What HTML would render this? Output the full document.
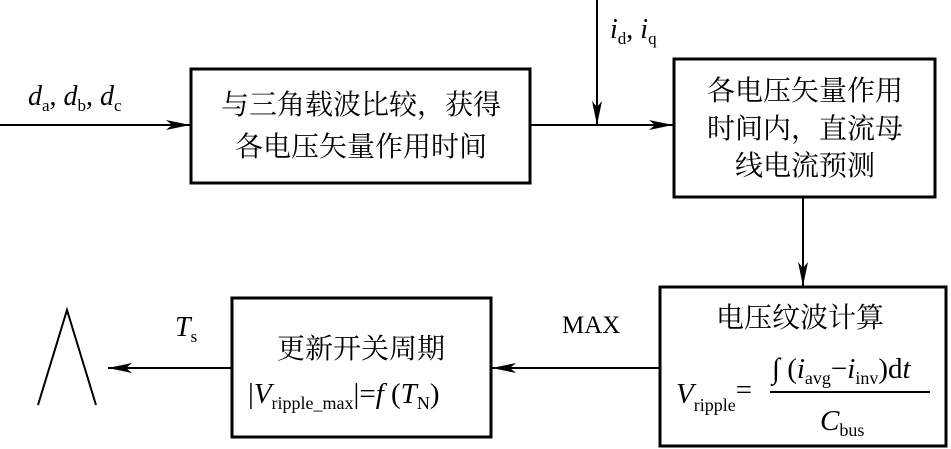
<!DOCTYPE html>
<html><head><meta charset="utf-8"><style>
body{margin:0;background:#fff;}
svg{display:block;}
text{font-family:"Liberation Serif","Noto Serif CJK SC",serif;fill:#000;}
.cn{font-family:"Liberation Serif","Noto Serif CJK SC",serif;font-size:28px;}
</style></head><body>
<svg width="951" height="449" viewBox="0 0 951 449" xmlns="http://www.w3.org/2000/svg">
<defs><marker id="a" markerWidth="24" markerHeight="10" refX="24" refY="5" orient="auto" markerUnits="userSpaceOnUse"><path d="M0,0 L24,5 L0,10 L6,5 Z" fill="#000"/></marker></defs>
<g stroke="#000" stroke-width="3" fill="none">
<rect x="191" y="69" width="339" height="114"/>
<rect x="674" y="59" width="261" height="138"/>
<rect x="660" y="287" width="286" height="159"/>
<rect x="232" y="298" width="259" height="139"/>
</g>
<g stroke="#000" stroke-width="2" fill="none">
<line x1="0" y1="125" x2="190" y2="125" marker-end="url(#a)"/>
<line x1="530" y1="125" x2="673" y2="125" marker-end="url(#a)"/>
<line x1="597" y1="0" x2="597" y2="125" marker-end="url(#a)"/>
<line x1="803" y1="197" x2="803" y2="286" marker-end="url(#a)"/>
<line x1="660" y1="368" x2="492" y2="368" marker-end="url(#a)"/>
<line x1="232" y1="368" x2="108" y2="368" marker-end="url(#a)"/>
<polyline points="38,405 67,310 96,405"/>
<line x1="770" y1="392" x2="930" y2="392" stroke-width="2"/>
</g>
<text x="28" y="105" font-size="28" font-style="italic">d<tspan font-size="17" font-style="normal" dy="6">a</tspan><tspan dy="-6" font-style="normal">, </tspan>d<tspan font-size="17" font-style="normal" dy="6">b</tspan><tspan dy="-6" font-style="normal">, </tspan>d<tspan font-size="17" font-style="normal" dy="6">c</tspan></text>
<text x="610" y="38" font-size="28" font-style="italic">i<tspan font-size="17" font-style="normal" dy="6">d</tspan><tspan dy="-6" font-style="normal">, </tspan>i<tspan font-size="17" font-style="normal" dy="6">q</tspan></text>
<text class="cn" x="361" y="114" text-anchor="middle">与三角载波比较，获得</text>
<text class="cn" x="361" y="156" text-anchor="middle">各电压矢量作用时间</text>
<text class="cn" x="805" y="100" text-anchor="middle">各电压矢量作用</text>
<text class="cn" x="805" y="138" text-anchor="middle">时间内，直流母</text>
<text class="cn" x="805" y="175" text-anchor="middle">线电流预测</text>
<text class="cn" x="800" y="327" text-anchor="middle">电压纹波计算</text>
<text x="772" y="378" font-size="29">∫ (<tspan font-style="italic">i</tspan><tspan font-size="18" dy="6">avg</tspan><tspan dy="-6">−</tspan><tspan font-style="italic">i</tspan><tspan font-size="18" dy="6">inv</tspan><tspan dy="-6">)d</tspan><tspan font-style="italic">t</tspan></text>
<text x="676" y="403" font-size="29" font-style="italic">V<tspan font-size="18" font-style="normal" dy="8">ripple</tspan><tspan font-style="normal" dy="-12">=</tspan></text>
<text x="820" y="430" font-size="29" font-style="italic">C<tspan font-size="18" font-style="normal" dy="6">bus</tspan></text>
<text x="562" y="333" font-size="25">MAX</text>
<text x="175" y="336" font-size="28" font-style="italic">T<tspan font-size="17" font-style="normal" dy="6">s</tspan></text>
<text class="cn" x="361" y="358" text-anchor="middle">更新开关周期</text>
<text x="248" y="403" font-size="29">|<tspan font-style="italic">V</tspan><tspan font-size="18" dy="6">ripple_max</tspan><tspan dy="-6">|=</tspan><tspan font-style="italic">f</tspan> (<tspan font-style="italic">T</tspan><tspan font-size="18" dy="6">N</tspan><tspan dy="-6">)</tspan></text>
</svg>
</body></html>
